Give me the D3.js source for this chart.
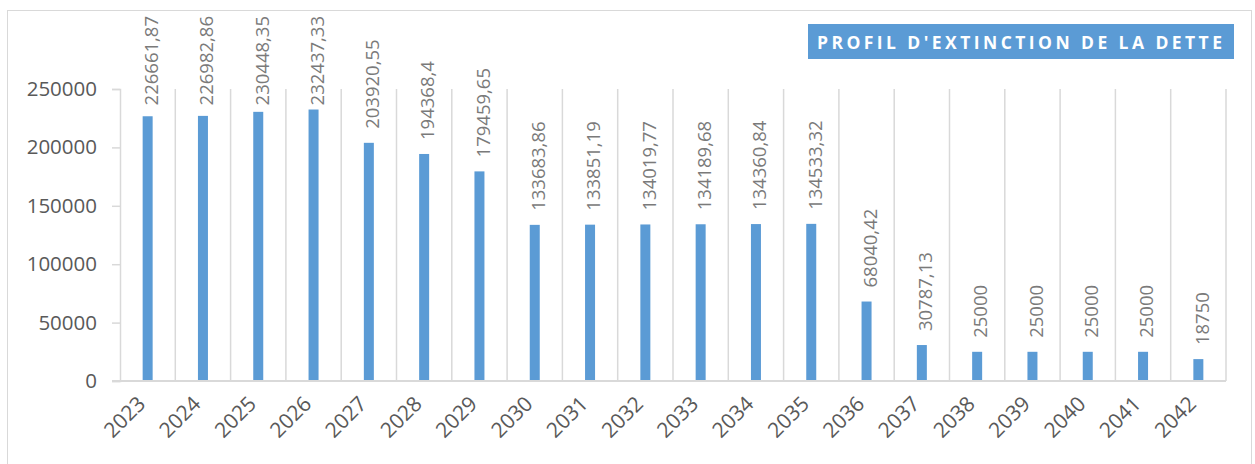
<!DOCTYPE html>
<html>
<head>
<meta charset="utf-8">
<script src="https://cdn.jsdelivr.net/npm/d3@7"></script>
<style>
  body { margin: 0; background: #fff; }
  svg { display: block; }
</style>
</head>
<body>
<svg id="chart"></svg>
<script>
'use strict';

// values
var years = ['2023', '2024', '2025', '2026', '2027', '2028', '2029', '2030', '2031', '2032',
  '2033', '2034', '2035', '2036', '2037', '2038', '2039', '2040', '2041', '2042'];
var amounts = [226661.87, 226982.86, 230448.35, 232437.33, 203920.55, 194368.4, 179459.65,
  133683.86, 133851.19, 134019.77, 134189.68, 134360.84, 134533.32, 68040.42, 30787.13,
  25000, 25000, 25000, 25000, 18750];
var amountLabels = ['226661,87', '226982,86', '230448,35', '232437,33', '203920,55', '194368,4',
  '179459,65', '133683,86', '133851,19', '134019,77', '134189,68', '134360,84', '134533,32',
  '68040,42', '30787,13', '25000', '25000', '25000', '25000', '18750'];
var yTicks = [0, 50000, 100000, 150000, 200000, 250000];
var title = "PROFIL D'EXTINCTION DE LA DETTE";

(function() {
  var width = 1255, height = 464;
  var plotLeft = 120, plotRight = 1226, plotTop = 89, plotBottom = 381;
  var font = "'Open Sans', 'Noto Sans', sans-serif";
  var gridColor = '#d9d9d9';

  var svg = d3.select('#chart').attr('width', width).attr('height', height);

  // chart frame
  svg.append('rect')
    .attr('x', 7.5).attr('y', 10.5)
    .attr('width', 1244).attr('height', 470)
    .attr('fill', 'none')
    .attr('stroke', gridColor)
    .attr('stroke-width', 1);

  var x = d3.scaleBand().domain(years).range([plotLeft, plotRight]).padding(0);
  var y = d3.scaleLinear().domain([0, 250000]).range([plotBottom, plotTop]);

  // vertical separators between categories
  var bounds = years.map(function(d) { return x(d) + x.bandwidth(); });
  svg.append('g').selectAll('line')
    .data(bounds)
    .enter()
    .append('line')
    .attr('x1', function(d) { return d; })
    .attr('x2', function(d) { return d; })
    .attr('y1', plotTop)
    .attr('y2', plotBottom)
    .attr('stroke', gridColor)
    .attr('stroke-width', 1.5);

  // y axis
  var yAxis = svg.append('g')
    .attr('transform', 'translate(' + plotLeft + ',0)')
    .call(d3.axisLeft(y).tickValues(yTicks).tickSize(8).tickPadding(15).tickFormat(d3.format('d')));
  yAxis.select('.domain').attr('stroke', gridColor).attr('stroke-width', 1.5);
  yAxis.selectAll('.tick line').attr('stroke', gridColor).attr('stroke-width', 1.5);
  yAxis.selectAll('.tick text')
    .style('font-family', font)
    .style('font-size', '20.5px')
    .attr('fill', '#595959');

  // bars
  var barW = 10;
  svg.append('g').selectAll('rect')
    .data(amounts)
    .enter()
    .append('rect')
    .attr('x', function(d, i) { return x(years[i]) + x.bandwidth() / 2 - barW / 2; })
    .attr('y', function(d) { return y(d); })
    .attr('width', barW)
    .attr('height', function(d) { return plotBottom - y(d); })
    .attr('fill', '#5b9bd5');

  // x axis line (drawn over bar bottoms)
  svg.append('line')
    .attr('x1', 112).attr('x2', plotRight)
    .attr('y1', plotBottom).attr('y2', plotBottom)
    .attr('stroke', gridColor)
    .attr('stroke-width', 2);

  // x labels, rotated
  svg.append('g').selectAll('text')
    .data(years)
    .enter()
    .append('text')
    .attr('transform', function(d) {
      return 'translate(' + (x(d) + x.bandwidth() / 2 - 12) + ',' + (plotBottom + 13) + ') rotate(-45)';
    })
    .attr('text-anchor', 'end')
    .attr('dy', '0.75em')
    .style('font-family', font)
    .style('font-size', '21px')
    .attr('fill', '#595959')
    .text(function(d) { return d; });

  // data labels, vertical
  var labels = svg.append('g').selectAll('text')
    .data(amounts)
    .enter()
    .append('text')
    .attr('text-anchor', 'start')
    .attr('dy', '0.45em')
    .style('font-family', font)
    .style('font-size', '18.5px')
    .attr('fill', '#7a7a7a')
    .text(function(d, i) { return amountLabels[i]; });

  labels.attr('transform', function(d, i) {
    var len = this.getComputedTextLength();
    var base = Math.max(y(d) - 14, 16 + len);
    return 'translate(' + (x(years[i]) + x.bandwidth() / 2 + 2) + ',' + base + ') rotate(-90)';
  });

  // title box
  svg.append('rect')
    .attr('x', 808).attr('y', 24)
    .attr('width', 426).attr('height', 35)
    .attr('fill', '#5b9bd5');
  svg.append('text')
    .attr('x', 817).attr('y', 49)
    .attr('textLength', 405)
    .attr('lengthAdjust', 'spacing')
    .style('font-family', font)
    .style('font-size', '17.5px')
    .style('font-weight', 'bold')
    .attr('fill', '#ffffff')
    .text(title);
})();
</script>
</body>
</html>
